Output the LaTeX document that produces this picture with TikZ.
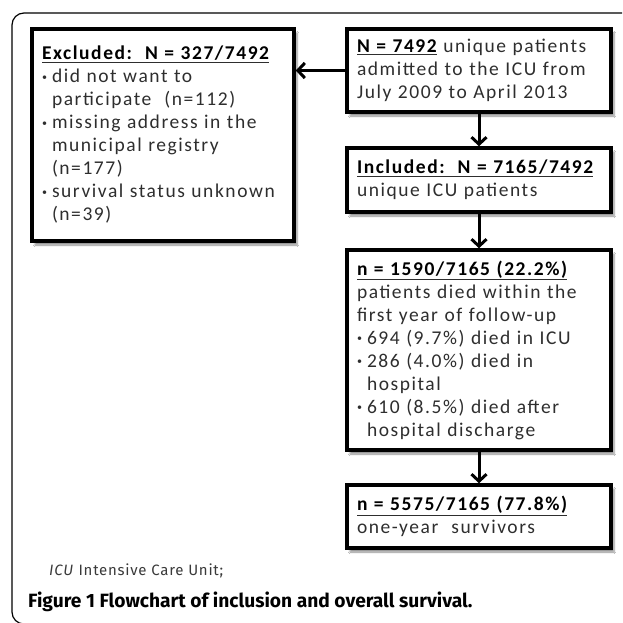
\documentclass[tikz,border=0pt]{standalone}
\usepackage{fontspec}
\setmainfont{Carlito}
\newfontfamily\boxfont[LetterSpace=8]{Carlito}
\newfontfamily\capfont{Fira Sans}
\newfontfamily\abbrfont[LetterSpace=5]{Fira Sans}
\usetikzlibrary{arrows.meta,shadows.blur}
\definecolor{textgray}{HTML}{2E2E2E}
\definecolor{capgray}{HTML}{3A3A3A}
\newcommand{\bul}{\makebox[10pt][l]{\raisebox{2.5pt}{\fontsize{10}{10}\selectfont\textbullet}}}
\newcommand{\ind}{\hspace*{10pt}}
\newcommand{\hd}[1]{\underline{\textbf{\color{black}#1}}}
\begin{document}
\begin{tikzpicture}[x=1pt,y=-1pt,
  box/.style={draw=black, line width=3.5pt, fill=white, rectangle, inner sep=0pt,
    align=left, text=textgray, font=\boxfont\fontsize{19.5}{23}\selectfont,
    blur shadow={shadow xshift=3pt, shadow yshift=-4pt, shadow blur steps=6, shadow opacity=45}},
  arr/.style={line width=3pt, -{Straight Barb[length=7pt,width=15pt,line width=3pt]}},
  frame/.style={draw=black, line width=1.2pt, rounded corners=12pt}
]
\useasboundingbox (0,0) rectangle (622,623);
\clip (0,0) rectangle (622,623);
\fill[white] (0,0) rectangle (622,623);
\draw[frame] (12,13) rectangle (720,624);

\node[box, minimum width=262pt, minimum height=212pt, text width=242pt] (excl) at (163,135) {%
\hd{Excluded:\ \ N = 327/7492}\\
\bul did not want to\\
\ind participate\ \ (n=112)\\
\bul missing address in the\\
\ind municipal registry\\
\ind (n=177)\\
\bul survival status unknown\\
\ind (n=39)};

\node[box, minimum width=264pt, minimum height=83pt, text width=244pt] (top) at (479,70.5) {%
\hd{N = 7492} unique patients\\
admitted to the ICU from\\
July 2009 to April 2013};

\node[box, minimum width=264pt, minimum height=64pt, text width=244pt] (incl) at (479,180) {%
\hd{Included:\ \ N = 7165/7492}\\
unique ICU patients};

\node[box, minimum width=264pt, minimum height=200pt, text width=244pt] (died) at (479,350) {%
\hd{n = 1590/7165 (22.2\%)}\\
patients died within the\\
first year of follow-up\\
\bul 694 (9.7\%) died in ICU\\
\bul 286 (4.0\%) died in\\
\ind hospital\\
\bul 610 (8.5\%) died after\\
\ind hospital discharge};

\node[box, minimum width=264pt, minimum height=63pt, text width=244pt] (surv) at (479,516.5) {%
\hd{n = 5575/7165 (77.8\%)}\\
one-year\ \ survivors};

\draw[arr] (top.west) -- (top.west -| excl.east);
\draw[arr] (top.south) -- (incl.north);
\draw[arr] (incl.south) -- (died.north);
\draw[arr] (died.south) -- (surv.north);

\node[anchor=base west, inner sep=0pt, text=capgray, font=\abbrfont\fontsize{15}{15}\selectfont] (abbr) at (49,575) {\textit{ICU} Intensive Care Unit;};
\node[anchor=base west, inner sep=0pt, font=\capfont\bfseries\fontsize{19.2}{19.2}\selectfont] (cap) at (28,607) {Figure 1 Flowchart of inclusion and overall survival.};
\end{tikzpicture}
\end{document}
